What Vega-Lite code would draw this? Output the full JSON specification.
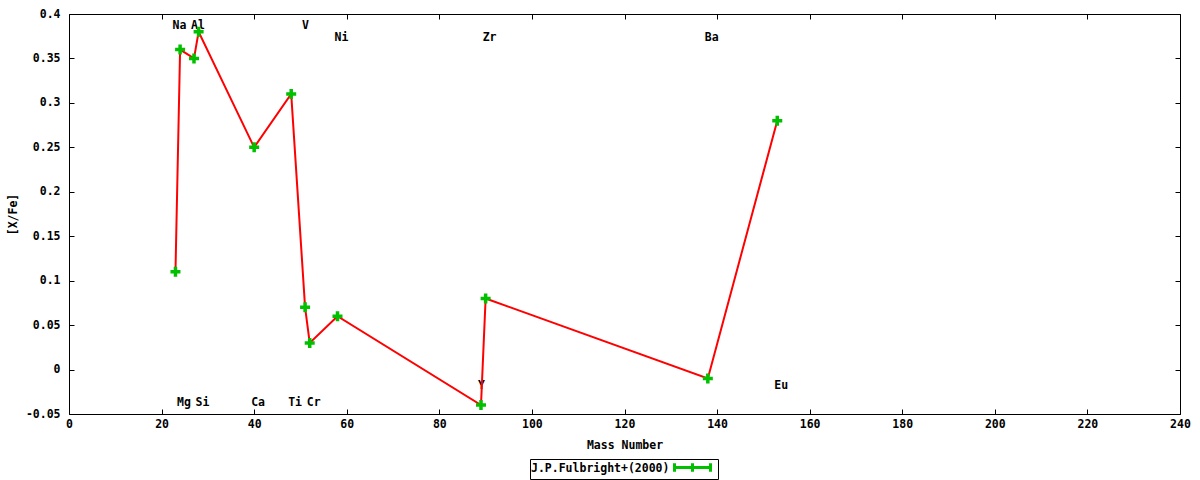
{
  "$schema": "https://vega.github.io/schema/vega-lite/v6.json",
  "width": 1111,
  "height": 400,
  "autosize": {"type": "none"},
  "padding": {"left": 69, "top": 14, "right": 20, "bottom": 66},
  "background": "white",
  "data": {
    "values": [
      {"element": "Na", "mass": 23, "xfe": 0.11, "label_y": 0.386, "series": "J.P.Fulbright+(2000)"},
      {"element": "Mg", "mass": 24, "xfe": 0.36, "label_y": -0.038, "series": "J.P.Fulbright+(2000)"},
      {"element": "Al", "mass": 27, "xfe": 0.35, "label_y": 0.386, "series": "J.P.Fulbright+(2000)"},
      {"element": "Si", "mass": 28, "xfe": 0.38, "label_y": -0.038, "series": "J.P.Fulbright+(2000)"},
      {"element": "Ca", "mass": 40, "xfe": 0.25, "label_y": -0.038, "series": "J.P.Fulbright+(2000)"},
      {"element": "Ti", "mass": 48, "xfe": 0.31, "label_y": -0.038, "series": "J.P.Fulbright+(2000)"},
      {"element": "V", "mass": 51, "xfe": 0.07, "label_y": 0.386, "series": "J.P.Fulbright+(2000)"},
      {"element": "Cr", "mass": 52, "xfe": 0.03, "label_y": -0.038, "series": "J.P.Fulbright+(2000)"},
      {"element": "Ni", "mass": 58, "xfe": 0.06, "label_y": 0.373, "series": "J.P.Fulbright+(2000)"},
      {"element": "Y", "mass": 89, "xfe": -0.04, "label_y": -0.019, "series": "J.P.Fulbright+(2000)"},
      {"element": "Zr", "mass": 90, "xfe": 0.08, "label_y": 0.373, "series": "J.P.Fulbright+(2000)"},
      {"element": "Ba", "mass": 138, "xfe": -0.01, "label_y": 0.373, "series": "J.P.Fulbright+(2000)"},
      {"element": "Eu", "mass": 153, "xfe": 0.28, "label_y": -0.019, "series": "J.P.Fulbright+(2000)"}
    ]
  },
  "layer": [
    {
      "mark": {
        "type": "text",
        "align": "left",
        "baseline": "middle",
        "dx": -3,
        "font": "DejaVu Sans Mono",
        "fontSize": 11.5,
        "fontWeight": "bold",
        "color": "black"
      },
      "encoding": {
        "x": {
          "field": "mass",
          "type": "quantitative",
          "scale": {"domain": [0, 240], "nice": false, "zero": false},
          "axis": {"orient": "top", "labels": false, "title": null, "values": [0, 20, 40, 60, 80, 100, 120, 140, 160, 180, 200, 220, 240]}
        },
        "y": {
          "field": "label_y",
          "type": "quantitative",
          "scale": {"domain": [-0.05, 0.4], "nice": false, "zero": false},
          "axis": {"orient": "right", "labels": false, "title": null, "values": [-0.05, 0, 0.05, 0.1, 0.15, 0.2, 0.25, 0.3, 0.35, 0.4]}
        },
        "text": {"field": "element", "type": "nominal"}
      }
    },
    {
      "mark": {"type": "line", "color": "#ff0000", "strokeWidth": 2},
      "encoding": {
        "x": {
          "field": "mass",
          "type": "quantitative",
          "sort": "ascending",
          "axis": {"orient": "bottom", "title": "Mass Number", "values": [0, 20, 40, 60, 80, 100, 120, 140, 160, 180, 200, 220, 240]}
        },
        "y": {
          "field": "xfe",
          "type": "quantitative",
          "axis": {
            "orient": "left",
            "title": "[X/Fe]",
            "values": [-0.05, 0, 0.05, 0.1, 0.15, 0.2, 0.25, 0.3, 0.35, 0.4],
            "labelExpr": "replace(format(datum.value, '.2~f'), '\u2212', '-')"
          }
        }
      }
    },
    {
      "mark": {
        "type": "point",
        "filled": true,
        "opacity": 1,
        "size": 100,
        "shape": "M-1,-0.35H-0.35V-1H0.35V-0.35H1V0.35H0.35V1H-0.35V0.35H-1Z"
      },
      "encoding": {
        "x": {"field": "mass", "type": "quantitative", "axis": null},
        "y": {"field": "xfe", "type": "quantitative", "axis": null},
        "color": {
          "field": "series",
          "type": "nominal",
          "scale": {"range": ["#00c000"]},
          "legend": {
            "orient": "none",
            "legendX": 461,
            "legendY": 445,
            "title": "J.P.Fulbright+(2000)",
            "titleOrient": "left",
            "titleBaseline": "middle",
            "titlePadding": 15,
            "titleFont": "DejaVu Sans Mono",
            "titleFontSize": 11.5,
            "titleFontWeight": "bold",
            "titleColor": "black",
            "labelExpr": "''",
            "labelFontSize": 1,
            "labelOffset": 15,
            "symbolType": "M-3,0H3M-3,-0.7V0.7M3,-0.7V0.7M0,-0.7V0.7",
            "symbolSize": 144,
            "symbolStrokeWidth": 3,
            "symbolStrokeColor": "#00c000",
            "symbolFillColor": "transparent",
            "strokeColor": "black",
            "padding": 1
          }
        }
      }
    }
  ],
  "resolve": {"axis": {"x": "independent", "y": "independent"}},
  "config": {
    "view": {"stroke": "black", "strokeWidth": 1},
    "axis": {
      "domain": false,
      "grid": false,
      "ticks": true,
      "tickColor": "black",
      "tickSize": -5,
      "tickWidth": 1,
      "labelFont": "DejaVu Sans Mono",
      "labelFontSize": 11.5,
      "labelFontWeight": "bold",
      "labelColor": "black",
      "labelFlush": false,
      "labelOverlap": false,
      "titleFont": "DejaVu Sans Mono",
      "titleFontSize": 11.5,
      "titleFontWeight": "bold",
      "titleColor": "black"
    },
    "axisX": {"labelPadding": 9, "titlePadding": 10},
    "axisY": {"labelPadding": 14, "titlePadding": 7}
  }
}
